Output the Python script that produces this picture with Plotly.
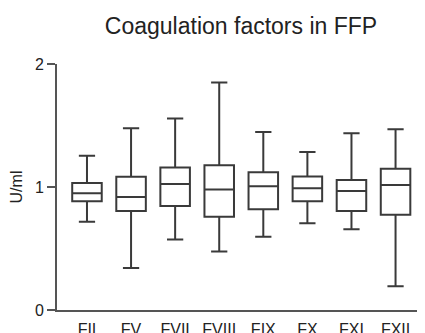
import plotly.graph_objects as go

categories = ["FII", "FV", "FVII", "FVIII", "FIX", "FX", "FXI", "FXII"]
lower_whisker = [0.717, 0.342, 0.573, 0.475, 0.595, 0.706, 0.657, 0.193]
q1_values = [0.885, 0.804, 0.845, 0.758, 0.820, 0.885, 0.804, 0.774]
median_values = [0.950, 0.918, 1.024, 0.980, 1.007, 0.989, 0.967, 1.016]
q3_values = [1.032, 1.083, 1.159, 1.176, 1.119, 1.086, 1.056, 1.149]
upper_whisker = [1.255, 1.477, 1.556, 1.849, 1.447, 1.284, 1.437, 1.469]
y_ticks = [0, 1, 2]

FONT = "Liberation Sans, Arial, sans-serif"

fig = go.Figure()
fig.add_trace(go.Box(
    x=categories,
    lowerfence=lower_whisker,
    q1=q1_values,
    median=median_values,
    q3=q3_values,
    upperfence=upper_whisker,
    boxpoints=False,
    width=0.67,
    whiskerwidth=0.55,
    fillcolor="white",
    line=dict(color="#3a3a3a", width=2),
    hoverinfo="skip",
    showlegend=False,
))

fig.update_layout(
    width=425, height=333,
    margin=dict(l=49, r=11, t=56, b=31),
    paper_bgcolor="white", plot_bgcolor="white",
    font=dict(family=FONT, color="#222222", size=16),
    title=dict(text="Coagulation factors in FFP", x=233/425, xanchor="center",
               y=1 - 18/333, yanchor="middle", yref="container",
               font=dict(size=23, color="#222222", family=FONT)),
)
fig.update_xaxes(
    type="category", range=[-0.68, 7.6], automargin=False,
    showline=True, linecolor="#555555", linewidth=2,
    ticks="", showgrid=False, zeroline=False,
    tickfont=dict(size=16, color="#222222"),
    ticklabelstandoff=4,
)
fig.update_yaxes(
    range=[0, 2], tickvals=y_ticks, automargin=False,
    showline=True, linecolor="#555555", linewidth=2,
    ticks="outside", ticklen=8, tickwidth=2, tickcolor="#555555",
    showgrid=False, zeroline=False,
    tickfont=dict(size=16, color="#222222"),
    title=dict(text="U/ml", font=dict(size=16, color="#222222"), standoff=9),
)

fig.write_html("out.html")
